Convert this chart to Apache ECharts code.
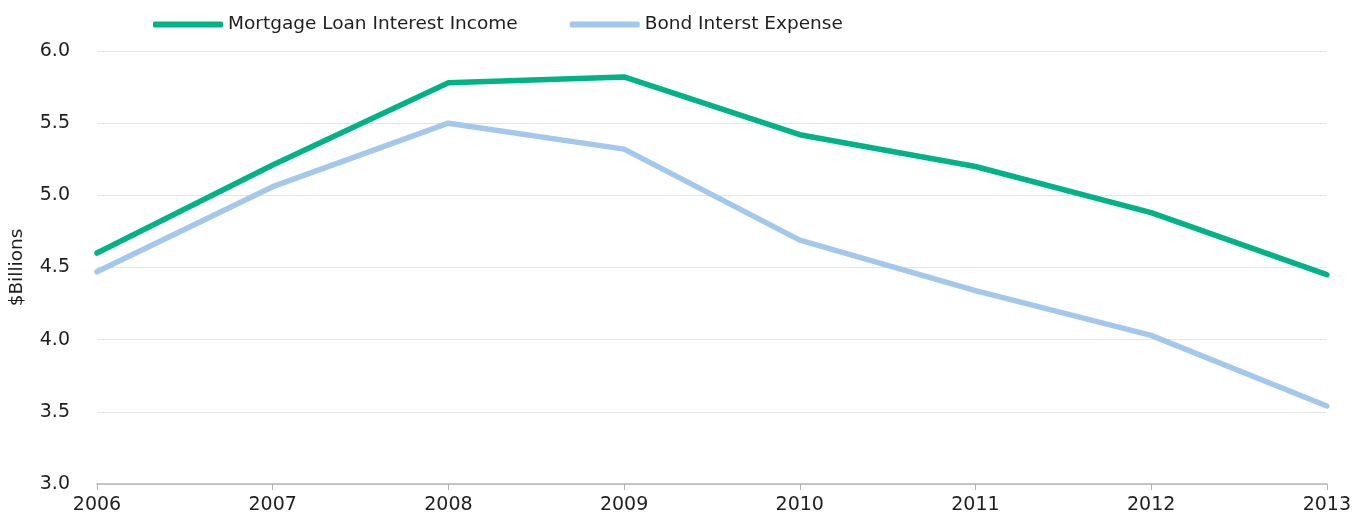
<!DOCTYPE html>
<html>
<head>
<meta charset="utf-8">
<script src="https://cdn.jsdelivr.net/npm/echarts@6/dist/echarts.min.js"></script>
<style>
  html, body { margin: 0; padding: 0; background: #fff; }
  #chart { width: 1354px; height: 523px; }
</style>
</head>
<body>
<div id="chart"></div>
<script>
// years on the x axis
const years = ['2006', '2007', '2008', '2009', '2010', '2011', '2012', '2013']
// $ billions
const mortgageIncome = [4.60, 5.21, 5.78, 5.82, 5.42, 5.20, 4.88, 4.45]
const bondExpense = [4.47, 5.06, 5.50, 5.32, 4.69, 4.34, 4.03, 3.54]

const chart = echarts.init(document.getElementById('chart'))
const font = '"DejaVu Sans", sans-serif'

chart.setOption({
  animation: false,
  textStyle: { fontFamily: font },
  grid: { left: 97, right: 25, top: 51, bottom: 39 },
  legend: {
    left: 148,
    top: 10,
    icon: 'roundRect',
    itemWidth: 70,
    itemHeight: 6,
    itemGap: 52,
    textStyle: { fontSize: 18.5, color: '#1e1e1e', fontFamily: font },
    data: ['Mortgage Loan Interest Income', 'Bond Interst Expense']
  },
  xAxis: {
    type: 'category',
    boundaryGap: false,
    data: years,
    axisLine: { lineStyle: { color: '#b5b5b5', width: 1.5 } },
    axisTick: { show: true, length: 6, lineStyle: { color: '#b5b5b5' } },
    axisLabel: { fontSize: 19, color: '#1e1e1e', margin: 12, fontFamily: font },
    splitLine: { show: false }
  },
  yAxis: {
    type: 'value',
    min: 3.0,
    max: 6.0,
    interval: 0.5,
    name: '$Billions',
    nameLocation: 'middle',
    nameGap: 70,
    nameRotate: 90,
    nameTextStyle: { fontSize: 18.5, color: '#1e1e1e', fontFamily: font },
    axisLine: { show: false },
    axisTick: { show: false },
    axisLabel: {
      fontSize: 19, color: '#1e1e1e', margin: 27, fontFamily: font,
      formatter: (v) => v.toFixed(1)
    },
    splitLine: { lineStyle: { color: '#e4e4e4', width: 1 } }
  },
  series: [
    {
      name: 'Mortgage Loan Interest Income',
      type: 'line',
      symbol: 'none',
      data: mortgageIncome,
      itemStyle: { color: '#00b386' },
      lineStyle: { width: 5.5, color: '#00b386', cap: 'round' }
    },
    {
      name: 'Bond Interst Expense',
      type: 'line',
      symbol: 'none',
      data: bondExpense,
      itemStyle: { color: '#a3c8ec' },
      lineStyle: { width: 5.5, color: '#a3c8ec', cap: 'round' }
    }
  ]
})
</script>
</body>
</html>
